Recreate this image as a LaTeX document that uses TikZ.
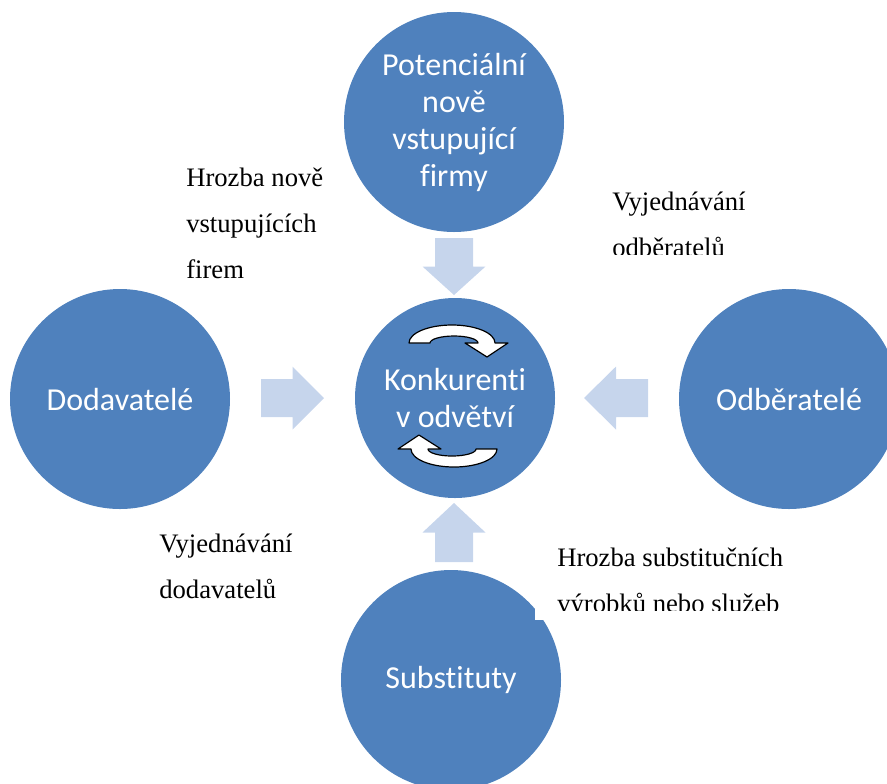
\documentclass[tikz,border=0pt]{standalone}
\usepackage{fontspec}
\setmainfont{Liberation Serif}
\newfontfamily\calfont[Ligatures=NoCommon]{Carlito}
\usepackage{tikz}
\usetikzlibrary{positioning}
\definecolor{disc}{HTML}{4F81BD}
\definecolor{pale}{HTML}{C6D5EC}

\begin{document}
\begin{tikzpicture}[x=0.75pt,y=-0.75pt,
  force/.style={circle,fill=disc,text=white,minimum size=165pt,inner sep=0pt,align=center,
    font=\calfont\fontsize{24}{27.75}\selectfont},
  remark/.style={anchor=base west,inner sep=0pt,align=left,font=\fontsize{20}{34.5}\selectfont},
  blockarr/.pic={\fill[pale] (-#1,-19) -- (0,-19) -- (0,-31.5) -- (#1,0) -- (0,31.5) -- (0,19) -- (-#1,19) -- cycle;},
  turn/.style={fill=white,draw=black,line width=0.9pt,line join=round}]
  \useasboundingbox (0,0) rectangle (887,783);
  \clip (0,0) rectangle (887,783);
  % five forces round the rivals
  \node[force] (entrants) at (454,122) {Potenciální\\nově\\vstupující\\firmy};
  \node[force,minimum size=150pt] (rivals) at (455,398) {Konkurenti\\v odvětví};
  \node[force] (suppliers) at (120,399) {Dodavatelé};
  \node[force] (buyers) at (789,399) {Odběratelé};
  \node[force] (substitutes) at (451,680) {Substituty};
  \foreach \x/\y/\a/\l in {292.5/398/0/31.5,454/266.5/-90/28.5,616/398/180/32,454/532.5/90/29.5}{
    \pic[rotate=\a] at (\x,\y) {blockarr=\l};}
  % the two turning arrows inside
  \filldraw[turn] (409,343) arc[start angle=180,end angle=360,x radius=43,y radius=18]
    -- (508,343) -- (487,357) -- (465,343) -- (478,343)
    arc[start angle=360,end angle=180,x radius=24,y radius=7] -- cycle;
  \begin{scope}[rotate around={180:(453,396)}]
    \filldraw[turn] (409,343) arc[start angle=180,end angle=360,x radius=43,y radius=18]
      -- (508,343) -- (487,357) -- (465,343) -- (478,343)
      arc[start angle=360,end angle=180,x radius=24,y radius=7] -- cycle;
  \end{scope}
  \fill[white] (535,530) rectangle (800,620);
  \node[remark] (entrythreat) at (186,278) {Hrozba nově\\vstupujících\\firem};
  \node[remark] (supplierpower) at (159,598) {Vyjednávání\\dodavatelů};
  \begin{scope}
    \clip (590,150) rectangle (887,254.5);
    \node[remark] (buyerpower) at (612,256) {Vyjednávání\\odběratelů};
  \end{scope}
  \begin{scope}
    \clip (540,530) rectangle (887,610.5);
    \node[remark] (subthreat) at (557,612) {Hrozba substitučních\\výrobků nebo služeb};
  \end{scope}
\end{tikzpicture}
\end{document}
